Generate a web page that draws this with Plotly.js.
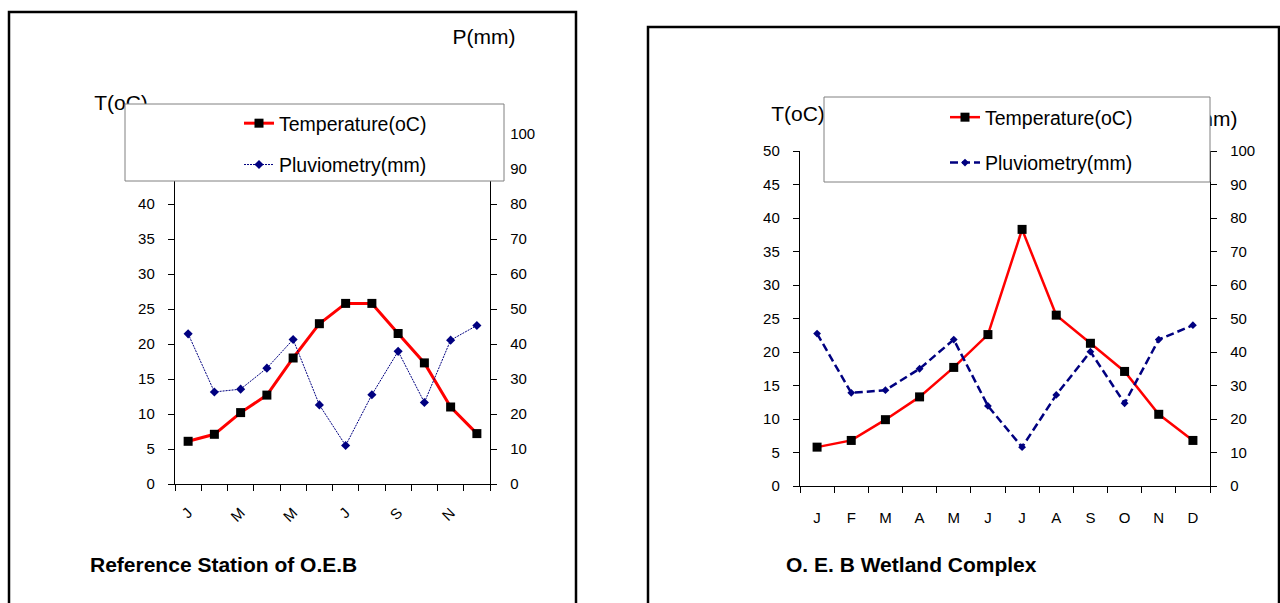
<!DOCTYPE html>
<html>
<head>
<meta charset="utf-8">
<script src="https://cdn.plot.ly/plotly-3.0.1.min.js"></script>
<style>html,body{margin:0;padding:0;background:#fff;}#chart{width:1280px;height:603px;}</style>
</head>
<body>
<div id="chart"></div>
<script>
// ---- data ----
var monthIndex = [1, 2, 3, 4, 5, 6, 7, 8, 9, 10, 11, 12];
var monthLabels = ['J', 'F', 'M', 'A', 'M', 'J', 'J', 'A', 'S', 'O', 'N', 'D'];
var leftTickVals = [1, 3, 5, 7, 9, 11];
var leftTickText = ['J', 'M', 'M', 'J', 'S', 'N'];
var monthBoundaries = [0.5, 1.5, 2.5, 3.5, 4.5, 5.5, 6.5, 7.5, 8.5, 9.5, 10.5, 11.5, 12.5];

var refTemperature = [6.1, 7.1, 10.2, 12.7, 18.0, 22.9, 25.8, 25.8, 21.5, 17.3, 11.0, 7.2];
var refPluviometry = [42.9, 26.3, 27.1, 33.1, 41.3, 22.6, 11.0, 25.5, 37.9, 23.3, 41.1, 45.3];
var wetTemperature = [5.8, 6.8, 9.9, 13.3, 17.7, 22.6, 38.3, 25.5, 21.3, 17.1, 10.7, 6.8];
var wetPluviometry = [45.5, 27.8, 28.6, 35.0, 43.7, 23.9, 11.6, 27.2, 40.1, 24.7, 43.7, 48.0];

var seriesNames = ['Temperature(oC)', 'Pluviometry(mm)'];
var chartTitles = ['Reference Station of O.E.B', 'O. E. B Wetland Complex'];
var axisTitles = ['T(oC)', 'P(mm)'];

// ---- helpers ----
var W = 1280, H = 603;
function px(x) { return x / W; }
function py(y) { return 1 - y / H; }
var FONT = 'Liberation Sans, Arial, sans-serif';

var traces = [
  {x: monthIndex, y: refTemperature, xaxis: 'x', yaxis: 'y', name: seriesNames[0], legend: 'legend', legendgroup: 'a',
   mode: 'lines+markers', line: {color: '#ff0000', width: 3}, marker: {symbol: 'square', size: 9, color: '#000000'}},
  {x: monthIndex, y: refPluviometry, xaxis: 'x', yaxis: 'y2', name: seriesNames[1], legend: 'legend', legendgroup: 'b',
   mode: 'lines+markers', line: {color: '#000080', width: 1, dash: '2px,1px'}, marker: {symbol: 'diamond', size: 7, color: '#000080'}},
  {x: monthIndex, y: wetTemperature, xaxis: 'x2', yaxis: 'y3', name: seriesNames[0], legend: 'legend2', legendgroup: 'c',
   mode: 'lines+markers', line: {color: '#ff0000', width: 2.5}, marker: {symbol: 'square', size: 9, color: '#000000'}},
  {x: monthIndex, y: wetPluviometry, xaxis: 'x2', yaxis: 'y4', name: seriesNames[1], legend: 'legend2', legendgroup: 'd',
   mode: 'lines+markers', line: {color: '#000080', width: 2.5, dash: '8px,4px'}, marker: {symbol: 'diamond', size: 6, color: '#000080'}}
];

var tickFont = {family: FONT, size: 15, color: '#000'};
function yAx(domain, range, dtick, extra) {
  var a = {domain: domain, range: range, dtick: dtick, tick0: 0, tickmode: 'linear', showgrid: false, zeroline: false,
    showline: true, linecolor: '#000', linewidth: 1.2, ticks: 'outside', ticklen: 6, tickcolor: '#000', tickwidth: 1,
    tickfont: tickFont, ticklabelstandoff: 10, fixedrange: true};
  for (var k in extra) a[k] = extra[k];
  return a;
}
function xAx(domain, anchor, tv, tt, angle, standoff) {
  return {domain: domain, anchor: anchor, range: [0.5, 12.5], showgrid: false, zeroline: false,
    showline: true, linecolor: '#000', linewidth: 1.2, tickmode: 'array', tickvals: tv, ticktext: tt, ticks: '',
    tickangle: angle, tickfont: tickFont, ticklabelstandoff: standoff, fixedrange: true,
    minor: {tickmode: 'array', tickvals: monthBoundaries, ticks: 'outside', ticklen: 6, tickcolor: '#000', tickwidth: 1, showgrid: false}};
}

var leftX = [px(175), px(490)];
var leftY = [py(484), py(134)];
var rightX = [px(800), px(1210)];
var rightY = [py(486), py(151)];

function labelShape(cx, cy, text) {
  return {type: 'rect', xref: 'paper', yref: 'paper', x0: px(cx - 40), x1: px(cx + 40), y0: py(cy + 12), y1: py(cy - 12),
    line: {width: 0}, fillcolor: 'rgba(0,0,0,0)', layer: 'above',
    label: {text: text, textposition: 'middle center', font: {family: FONT, size: 21, color: '#000'}}};
}
function boxShape(x0, y0, x1, y1, color, width, fill) {
  return {type: 'rect', xref: 'paper', yref: 'paper', x0: px(x0), x1: px(x1), y0: py(y1), y1: py(y0),
    line: {color: color, width: width}, fillcolor: fill, layer: 'above'};
}

var layout = {
  width: W, height: H, autosize: false,
  margin: {l: 0, r: 0, t: 0, b: 0, pad: 0},
  paper_bgcolor: '#fff', plot_bgcolor: '#fff',
  font: {family: FONT, color: '#000'},
  showlegend: true,
  xaxis: xAx(leftX, 'y', leftTickVals, leftTickText, -45, 13),
  yaxis: yAx(leftY, [0, 50], 5, {anchor: 'x'}),
  yaxis2: yAx(leftY, [0, 100], 10, {anchor: 'x', overlaying: 'y', side: 'right'}),
  xaxis2: xAx(rightX, 'y3', monthIndex, monthLabels, 0, 18),
  yaxis3: yAx(rightY, [0, 50], 5, {anchor: 'x2'}),
  yaxis4: yAx(rightY, [0, 100], 10, {anchor: 'x2', overlaying: 'y3', side: 'right'}),
  legend: {x: px(239), xanchor: 'left', y: py(144), yanchor: 'middle', bgcolor: 'rgba(0,0,0,0)', borderwidth: 0,
    font: {family: FONT, size: 19.5, color: '#000'}, traceorder: 'grouped', tracegroupgap: 13},
  legend2: {x: px(945), xanchor: 'left', y: py(140), yanchor: 'middle', bgcolor: 'rgba(0,0,0,0)', borderwidth: 0,
    font: {family: FONT, size: 19.5, color: '#000'}, traceorder: 'grouped', tracegroupgap: 17},
  shapes: [
    boxShape(9, 12, 576, 640, '#000', 2.5, 'rgba(0,0,0,0)'),
    boxShape(648, 27, 1279, 640, '#000', 2.5, 'rgba(0,0,0,0)'),
    labelShape(121, 100, axisTitles[0]),
    labelShape(484, 34, axisTitles[1]),
    labelShape(798, 111, axisTitles[0]),
    labelShape(1206, 116, axisTitles[1]),
    boxShape(125, 104, 504, 181, '#808080', 1, '#ffffff'),
    boxShape(824, 97, 1210, 182, '#808080', 1, '#ffffff')
  ],
  annotations: [
    {xref: 'paper', yref: 'paper', x: px(223.5), y: py(564), xanchor: 'center', yanchor: 'middle', showarrow: false,
     text: chartTitles[0], font: {family: FONT, size: 21, weight: 'bold', color: '#000'}},
    {xref: 'paper', yref: 'paper', x: px(911), y: py(564), xanchor: 'center', yanchor: 'middle', showarrow: false,
     text: chartTitles[1], font: {family: FONT, size: 21, weight: 'bold', color: '#000'}}
  ]
};

Plotly.newPlot('chart', traces, layout, {displayModeBar: false, staticPlot: true});
</script>
</body>
</html>
